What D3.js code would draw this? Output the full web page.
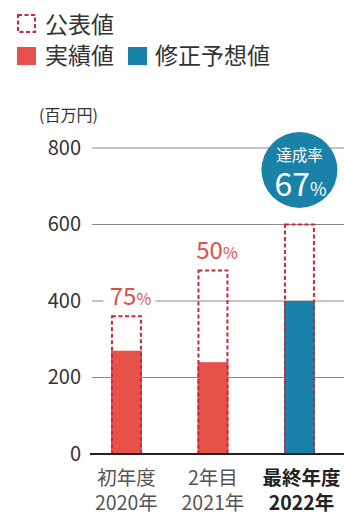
<!DOCTYPE html>
<html>
<head>
<meta charset="utf-8">
<script src="https://cdn.jsdelivr.net/npm/d3@7"></script>
<style>
  html, body { margin: 0; padding: 0; background: #fff; }
  svg { display: block; }
  text { font-family: "Noto Sans CJK JP", "Noto Sans", sans-serif; }
</style>
</head>
<body>
<svg id="chart" width="344" height="514"></svg>
<script>
// Sales by fiscal year (millions of yen)
const categories = ["初年度", "2年目", "最終年度"];
const years = ["2020年", "2021年", "2022年"];
const publishedValues = [360, 480, 600];      // 公表値 (dashed outline)
const resultValues = [270, 240, 400];         // 実績値 / 修正予想値 (filled)
const resultKinds = ["actual", "actual", "forecast"];
const yTicks = [0, 200, 400, 600, 800];

const colors = {
  actual: "#e8504a",
  forecast: "#1a82a8",
  outline: "#c62a3a",
  rate: "#de5148",
  grid: "#8a8a8a",
  axis: "#222",
  text: "#333"
};

const svg = d3.select("#chart");

const y = d3.scaleLinear().domain([0, 800]).range([454, 148]);
const x = d3.scaleBand()
  .domain(categories)
  .range([83.2, 342.7])
  .paddingInner(0.642)
  .paddingOuter(0.321);

// Legend
const legend = svg.append("g");
legend.append("rect")
  .attr("x", 18).attr("y", 15).attr("width", 17).attr("height", 17)
  .attr("fill", "none").attr("stroke", colors.outline)
  .attr("stroke-width", 2).attr("stroke-dasharray", "4,2.5");
legend.append("text").attr("x", 45).attr("y", 33)
  .attr("font-size", 23).attr("fill", colors.text).text("公表値");
legend.append("rect")
  .attr("x", 17).attr("y", 47).attr("width", 19).attr("height", 18)
  .attr("fill", colors.actual);
legend.append("text").attr("x", 45).attr("y", 64)
  .attr("font-size", 23).attr("fill", colors.text).text("実績値");
legend.append("rect")
  .attr("x", 128).attr("y", 47).attr("width", 19).attr("height", 18)
  .attr("fill", colors.forecast);
legend.append("text").attr("x", 155).attr("y", 64)
  .attr("font-size", 23).attr("fill", colors.text).text("修正予想値");

// Unit label
svg.append("text").attr("x", 39).attr("y", 121)
  .attr("font-size", 16).attr("fill", colors.text).text("(百万円)");

// Gridlines and y-axis labels
const yAxis = d3.axisLeft(y).tickValues(yTicks).tickSize(0).tickPadding(0);
const yg = svg.append("g").attr("transform", "translate(81,0)").call(yAxis);
yg.select(".domain").remove();
yg.selectAll("text")
  .attr("font-size", 20).attr("fill", colors.text)
  .attr("font-family", "'Noto Sans CJK JP', sans-serif");

svg.append("g").selectAll("line")
  .data(yTicks.filter(d => d > 0))
  .join("line")
  .attr("x1", 92).attr("x2", 344)
  .attr("y1", d => y(d)).attr("y2", d => y(d))
  .attr("stroke", colors.grid).attr("stroke-width", 1);

// Filled bars
svg.append("g").selectAll("rect")
  .data(categories)
  .join("rect")
  .attr("x", d => x(d))
  .attr("width", x.bandwidth())
  .attr("y", (d, i) => y(resultValues[i]))
  .attr("height", (d, i) => y(0) - y(resultValues[i]))
  .attr("fill", (d, i) => colors[resultKinds[i]]);

// Dashed published-value outlines
svg.append("g").selectAll("rect")
  .data(categories)
  .join("rect")
  .attr("x", d => x(d) + 1)
  .attr("width", x.bandwidth() - 2)
  .attr("y", (d, i) => y(publishedValues[i]))
  .attr("height", (d, i) => y(0) - y(publishedValues[i]))
  .attr("fill", "none")
  .attr("stroke", colors.outline)
  .attr("stroke-width", 2)
  .attr("stroke-dasharray", "4,2.5");

// Baseline
svg.append("line")
  .attr("x1", 90).attr("x2", 344)
  .attr("y1", y(0)).attr("y2", y(0))
  .attr("stroke", colors.axis).attr("stroke-width", 2);

// Achievement rate labels
const rates = resultValues.map((v, i) => Math.round(v / publishedValues[i] * 100));

categories.forEach((c, i) => {
  const cx = x(c) + x.bandwidth() / 2;
  if (resultKinds[i] === "actual") {
    const ty = y(publishedValues[i]) - 11;
    const g = svg.append("g");
    g.append("rect")
      .attr("x", cx - 23).attr("y", ty - 20).attr("width", 52).attr("height", 24)
      .attr("fill", "#fff");
    const t = g.append("text")
      .attr("x", cx + 4).attr("y", ty)
      .attr("text-anchor", "middle")
      .attr("fill", colors.rate);
    t.append("tspan").attr("font-size", 24).text(rates[i]);
    t.append("tspan").attr("font-size", 16).text("%");
  } else {
    const cy = 170;
    svg.append("circle")
      .attr("cx", cx).attr("cy", cy).attr("r", 38)
      .attr("fill", colors.forecast);
    svg.append("text")
      .attr("x", cx).attr("y", cy - 9)
      .attr("text-anchor", "middle").attr("fill", "#fff")
      .attr("font-size", 15.5).text("達成率");
    const t = svg.append("text")
      .attr("x", cx + 1).attr("y", cy + 26)
      .attr("text-anchor", "middle").attr("fill", "#fff");
    t.append("tspan").attr("font-size", 32).text(rates[i]);
    t.append("tspan").attr("font-size", 18).text("%");
  }
});

// Category labels
const xg = svg.append("g");
categories.forEach((c, i) => {
  const cx = x(c) + x.bandwidth() / 2 + (i === 2 ? 2 : 0);
  const bold = i === 2;
  xg.append("text")
    .attr("x", cx).attr("y", 485)
    .attr("text-anchor", "middle")
    .attr("font-size", 19.5)
    .attr("font-weight", bold ? 700 : 400)
    .attr("fill", bold ? "#222" : "#555")
    .text(c);
  xg.append("text")
    .attr("x", cx).attr("y", 510)
    .attr("text-anchor", "middle")
    .attr("font-size", 19.5)
    .attr("font-weight", bold ? 700 : 400)
    .attr("fill", bold ? "#222" : "#555")
    .text(years[i]);
});
</script>
</body>
</html>
